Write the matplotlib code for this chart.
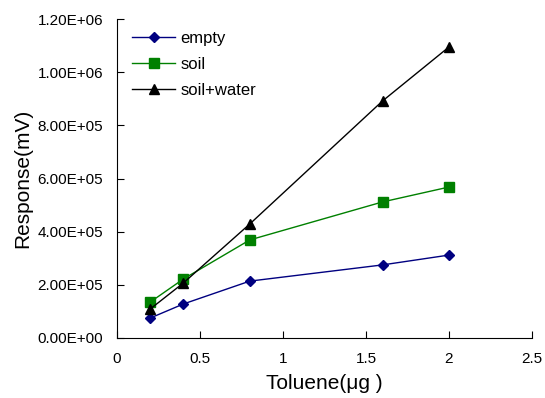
import matplotlib
matplotlib.use('Agg')
import matplotlib.pyplot as plt
from matplotlib.ticker import FuncFormatter

plt.rcParams['font.family'] = ['Liberation Sans', 'DejaVu Sans']

# donnees
toluene = [0.2, 0.4, 0.8, 1.6, 2.0]
empty = [0.075e6, 0.128e6, 0.214e6, 0.275e6, 0.312e6]
soil = [0.135e6, 0.222e6, 0.369e6, 0.512e6, 0.568e6]
soil_water = [0.109e6, 0.207e6, 0.429e6, 0.892e6, 1.095e6]

fig = plt.figure(figsize=(5.45, 3.98), dpi=100)
ax = fig.add_axes([0.2147, 0.1508, 0.7613, 0.8012])

ax.plot(toluene, empty, color='#000080', marker='D', markersize=5.5, lw=1, label='empty')
ax.plot(toluene, soil, color='#008000', marker='s', markersize=7, lw=1, label='soil')
ax.plot(toluene, soil_water, color='black', marker='^', markersize=7, lw=1, label='soil+water')

ax.set_xlim(0, 2.5)
ax.set_ylim(0, 1.2e6)
ax.set_xticks([0, 0.5, 1, 1.5, 2, 2.5])
ax.set_xticklabels(['0', '0.5', '1', '1.5', '2', '2.5'])
ax.set_yticks([i * 2e5 for i in range(7)])
ax.yaxis.set_major_formatter(FuncFormatter(lambda v, p: f'{v:.2E}'))

for s in ['top', 'right']:
    ax.spines[s].set_visible(False)
ax.tick_params(direction='in', length=5, labelsize=11, colors='black', pad=10)

ax.set_xlabel('Toluene(μg )', fontsize=15, labelpad=6)
ax.set_ylabel('Response(mV)', fontsize=15, labelpad=4)

ax.legend(loc='upper left', frameon=False, fontsize=12, handlelength=2.6,
          bbox_to_anchor=(0.0, 1.01), labelspacing=0.65, handletextpad=0.3)

fig.savefig('out.png')
